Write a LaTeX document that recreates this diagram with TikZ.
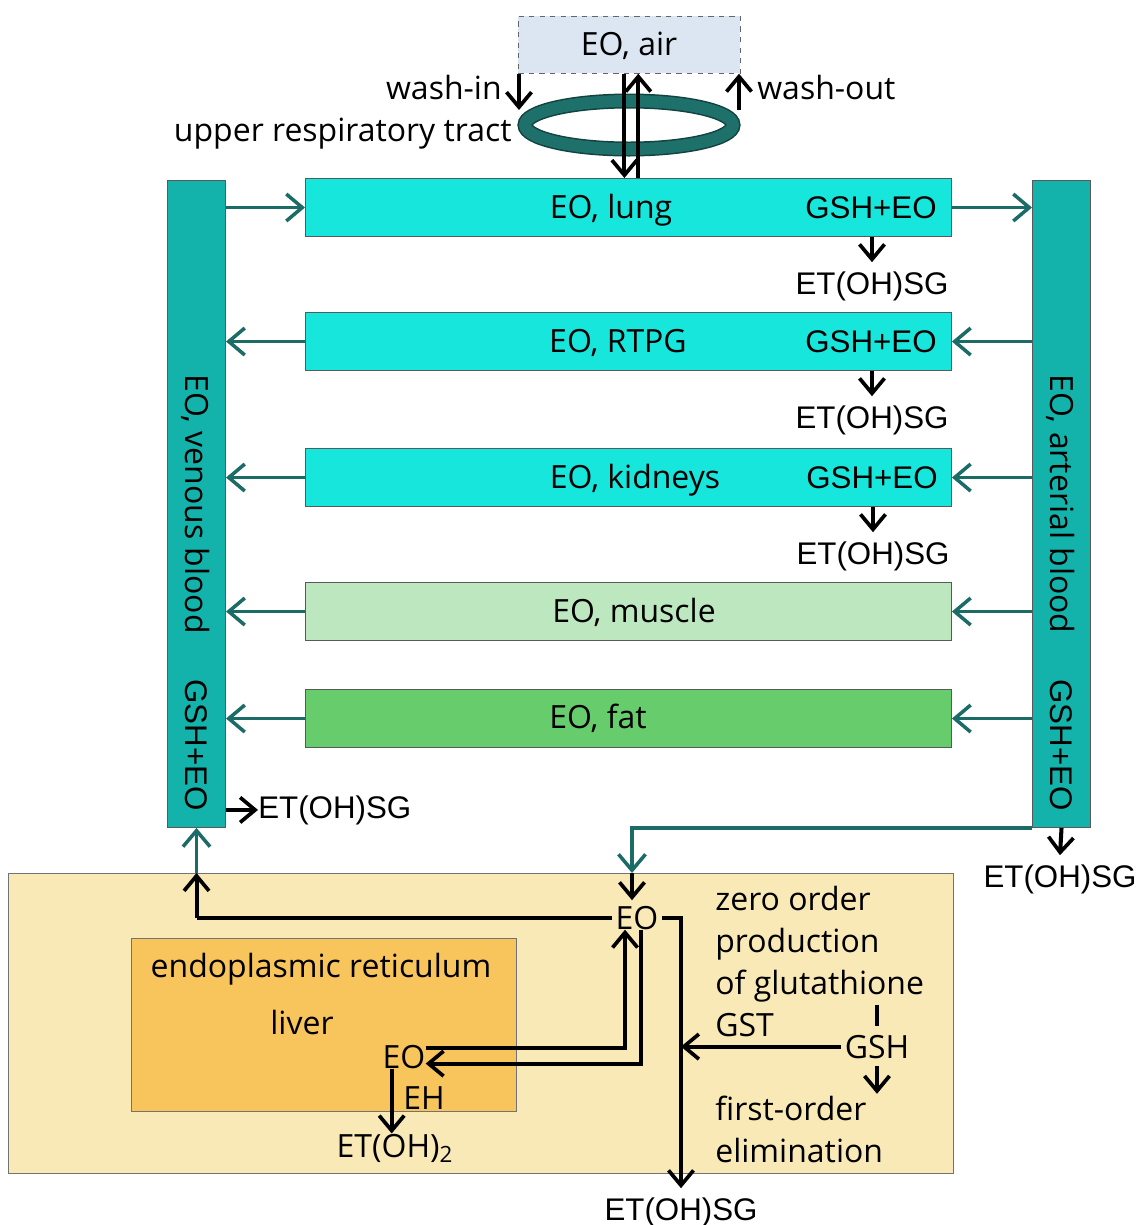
\documentclass[tikz,border=0pt]{standalone}
\usepackage{fontspec}
\setmainfont{Liberation Sans}
\newfontfamily\apt{Open Sans}
\usetikzlibrary{arrows.meta}
\definecolor{colC}{HTML}{13B3AB}
\definecolor{boxC}{HTML}{17E6DC}
\definecolor{musC}{HTML}{BDE8BF}
\definecolor{fatC}{HTML}{66CC6C}
\definecolor{tealL}{HTML}{1B6B66}
\definecolor{airC}{HTML}{DCE6F2}
\definecolor{livC}{HTML}{F9E9B7}
\definecolor{erC}{HTML}{F8C45C}
\definecolor{ringC}{HTML}{1E706B}
\begin{document}
\begin{tikzpicture}[x=0.02cm,y=-0.02cm,
  organ/.style={draw=black!65, line width=0.6pt, minimum width=12.92cm, minimum height=1.16cm, anchor=north west, inner sep=0pt},
  colbox/.style={draw=black!65, line width=0.6pt, fill=colC, minimum width=1.16cm, minimum height=12.94cm, anchor=north west, inner sep=0pt},
  lbl/.style={font=\apt\fontsize{18.2}{21}\selectfont, inner sep=0pt},
  alab/.style={font=\fontsize{17.8}{21}\selectfont, inner sep=0pt},
  blk/.style={line width=2.3pt, -{Straight Barb[length=3mm,width=5mm,line width=2.1pt]}},
  bln/.style={line width=2.3pt},
  tl/.style={draw=tealL, line width=2.2pt, -{Straight Barb[length=3.2mm,width=5.4mm,line width=2pt]}}]
\useasboundingbox (0,0) rectangle (1136,1225);
\fill[white] (0,0) rectangle (1136,1225);

% air and upper respiratory tract
\node[draw=black!60, dashed, fill=airC, minimum width=4.44cm, minimum height=1.14cm, anchor=north west, inner sep=0pt] (air) at (518,16) {};
\node[lbl, anchor=base] (airt) at (629,55) {EO, air};
\draw[ringC!60!black, line width=0.3cm] (629,125) ellipse [x radius=104, y radius=24];
\draw[ringC, line width=0.24cm] (629,125) ellipse [x radius=104, y radius=24];
\coordinate (ring) at (629,125);
\coordinate (wi) at (519,110);
\coordinate (wo) at (739,110);
\node[lbl, anchor=base east] (washin) at (502,99) {wash-in};
\node[lbl, anchor=base west] (washout) at (757,99) {wash-out};
\node[lbl, anchor=base east] (urt) at (512,141) {upper respiratory tract};

% blood columns
\node[colbox] (ven) at (167,180) {};
\node[colbox] (art) at (1032,180) {};
\node[lbl, rotate=-90] (vent) at (196,504) {EO, venous blood};
\node[alab, rotate=-90] (veng) at (196,745) {GSH+EO};
\node[lbl, rotate=-90] (artt) at (1061,504) {EO, arterial blood};
\node[alab, rotate=-90] (artg) at (1061,745) {GSH+EO};

% organs
\node[organ, fill=boxC] (lung) at (305,178) {};
\node[organ, fill=boxC] (rtpg) at (305,312) {};
\node[organ, fill=boxC] (kid) at (305,448) {};
\node[organ, fill=musC] (mus) at (305,582) {};
\node[organ, fill=fatC] (fat) at (305,689) {};
\node[lbl, anchor=base] (lungt) at (611,218) {EO, lung};
\node[lbl, anchor=base] (rtpgt) at (618,352) {EO, RTPG};
\node[lbl, anchor=base] (kidt) at (635,488) {EO, kidneys};
\node[lbl, anchor=base] (must) at (634,622) {EO, muscle};
\node[lbl, anchor=base] (fatt) at (598,728) {EO, fat};
\node[alab, anchor=base] (g1) at (871,218) {GSH+EO};
\node[alab, anchor=base] (g2) at (871,352) {GSH+EO};
\node[alab, anchor=base] (g3) at (872,488) {GSH+EO};
\node[alab, anchor=base] (e1) at (872,294) {ET(OH)SG};
\node[alab, anchor=base] (e2) at (872,428) {ET(OH)SG};
\node[alab, anchor=base] (e3) at (873,564) {ET(OH)SG};
\node[alab, anchor=base west] (ev) at (258,818) {ET(OH)SG};
\node[alab, anchor=base] (ea) at (1060,887) {ET(OH)SG};

% air flows
\draw[blk] (air.south west -| wi) -- (wi);
\draw[blk] (wo) -- (air.south east -| wo);
\draw[blk] ([xshift=-2.8pt]air.south) -- ([xshift=-2.8pt]air.south |- lung.north);
\draw[blk] ([xshift=5.1pt]air.south |- lung.north) -- ([xshift=5.1pt]air.south);

% blood flows
\draw[tl] (ven.east |- lung.west) -- (lung.west);
\draw[tl] (lung.east) -- (lung.east -| art.west);
\foreach \o in {rtpg,kid,mus,fat}{
  \draw[tl] (\o.east -| art.west) -- (\o.east);
  \draw[tl] (\o.west) -- (\o.west -| ven.east);
}
\draw[blk] (lung.south -| e1) -- ([yshift=5pt]e1.north);
\draw[blk] (rtpg.south -| e2) -- ([yshift=5pt]e2.north);
\draw[blk] (kid.south -| e3) -- ([yshift=5pt]e3.north);
\draw[blk] (ven.east |- ev.west) -- (ev.west);
\draw[blk] (art.south) -- ([yshift=5pt]ea.north);

% liver
\node[draw=black!55, line width=0.6pt, fill=livC, minimum width=18.9cm, minimum height=6cm, anchor=north west, inner sep=0pt] (liv) at (8,873) {};
\node[draw=black!55, line width=0.6pt, fill=erC, minimum width=7.7cm, minimum height=3.46cm, anchor=north west, inner sep=0pt] (er) at (131,938) {};
\node[lbl, anchor=base] (ert) at (321,977) {endoplasmic reticulum};
\node[lbl, anchor=base] (livt) at (302,1034) {liver};
\node[lbl, anchor=base] (eoi) at (404,1068) {EO};
\node[lbl, anchor=base west] (eh) at (403,1109) {EH};
\node[lbl, anchor=base] (et2) at (395,1157) {ET(OH)\textsubscript{2}};
\node[lbl, anchor=base] (eoo) at (637,929) {EO};
\node[lbl, anchor=base] (gsh) at (877,1058) {GSH};
\node[lbl, anchor=base west] (z1) at (715,910) {zero order};
\node[lbl, anchor=base west] (z2) at (715,952) {production};
\node[lbl, anchor=base west] (z3) at (715,994) {of glutathione};
\node[lbl, anchor=base west] (z4) at (715,1036) {GST};
\node[lbl, anchor=base west] (z5) at (715,1120) {first-order};
\node[lbl, anchor=base west] (z6) at (715,1162) {elimination};
\node[alab, anchor=base] (etb) at (681,1220) {ET(OH)SG};
\coordinate (tin) at (632,873);

\draw[tl] (art.south west) -- (tin |- art.south) -- (tin);
\draw[blk] (tin) -- ([yshift=3pt]eoo.north -| tin);
\draw[bln] ([xshift=-2pt]eoo.west) -- (eoo.west -| ven.south);
\draw[blk] (eoo.west -| ven.south) -- (ven.south |- liv.north);
\draw[tl] (ven.south |- liv.north) -- (ven.south);
\draw[blk] ([yshift=5pt]eoi.east) -| ([xshift=-6.8pt]eoo.south);
\draw[blk] ([xshift=2.3pt]eoo.south) |- ([yshift=-4pt]eoi.east);
\draw[blk] ([xshift=-7pt]eoi.south) -- ([xshift=-7pt]eoi.south |- et2.north);
\draw[blk] ([xshift=2pt]eoo.east) -| ([yshift=5pt]etb.north);
\draw[blk] ([xshift=-2pt]gsh.west) -- (gsh.west -| etb);
\draw[bln] ([yshift=17pt]gsh.north) -- ([yshift=5pt]gsh.north);
\draw[blk] ([yshift=-4pt]gsh.south) -- ([yshift=-20pt]gsh.south);
\end{tikzpicture}
\end{document}
